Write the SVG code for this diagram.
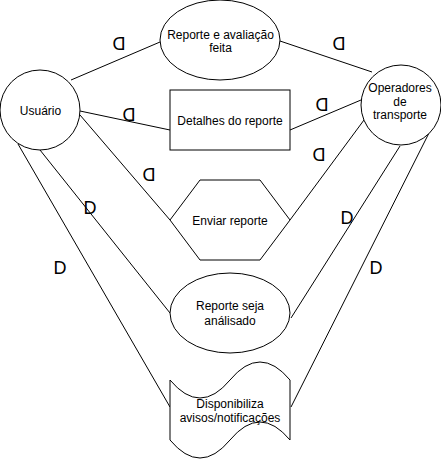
<svg xmlns="http://www.w3.org/2000/svg" width="441" height="461" viewBox="0 0 441 461">
<style>
.s{fill:#fff;stroke:#000;stroke-width:1}
.c line{stroke:#000;stroke-width:1}
.t{font-family:"Liberation Sans",Arial,sans-serif;font-size:12px;fill:#000;text-anchor:middle}
.d{font-family:"Liberation Sans",Arial,sans-serif;font-size:18px;fill:#000;text-anchor:middle}
</style>
<rect width="441" height="461" fill="#fff"/>
<g id="connectors" class="c">
<line x1="71" y1="80" x2="160" y2="42"/>
<line x1="280" y1="41" x2="372" y2="72"/>
<line x1="80" y1="111" x2="170" y2="130"/>
<line x1="290" y1="130" x2="361" y2="100"/>
<line x1="80" y1="115" x2="170" y2="220"/>
<line x1="364" y1="120" x2="290" y2="220"/>
<line x1="40" y1="150" x2="170" y2="313"/>
<line x1="18" y1="144" x2="170" y2="407"/>
<line x1="400" y1="146" x2="291" y2="318"/>
<line x1="429" y1="133" x2="291" y2="407"/>
</g>
<g id="labels">
<text class="d" transform="matrix(-1 0 0 1 238 0)" x="119" y="49.5">D</text>
<text class="d" transform="matrix(-1 0 0 1 678 0)" x="339" y="49.5">D</text>
<text class="d" transform="matrix(-1 0 0 1 258 0)" x="129" y="120.5">D</text>
<text class="d" transform="matrix(-1 0 0 1 644 0)" x="322" y="110.5">D</text>
<text class="d" transform="matrix(-1 0 0 1 638 0)" x="319" y="160.5">D</text>
<text class="d" transform="matrix(-1 0 0 1 298 0)" x="149" y="180.5">D</text>
<text class="d" x="90" y="213.5">D</text>
<text class="d" x="60" y="273.5">D</text>
<text class="d" x="347" y="223.5">D</text>
<text class="d" x="376" y="273.5">D</text>
</g>
<g id="usuario">
<circle class="s" cx="40" cy="110" r="40"/>
<text class="t" x="40.5" y="114.5">Usuário</text>
</g>
<g id="reporte-avaliacao">
<ellipse class="s" cx="220" cy="40" rx="60" ry="40"/>
<text class="t" x="220.5" y="38.5">Reporte e avaliação</text>
<text class="t" x="220.5" y="52">feita</text>
</g>
<g id="operadores">
<circle class="s" cx="401" cy="105" r="40"/>
<text class="t" x="400" y="92">Operadores</text>
<text class="t" x="400" y="105.5">de</text>
<text class="t" x="400" y="119">transporte</text>
</g>
<g id="detalhes">
<rect class="s" x="170" y="90" width="120" height="60"/>
<text class="t" x="230" y="124.5">Detalhes do reporte</text>
</g>
<g id="enviar">
<polygon class="s" points="170,220 200,180 260,180 290,220 260,260 200,260"/>
<text class="t" x="230" y="224.5">Enviar reporte</text>
</g>
<g id="reporte-analisado">
<ellipse class="s" cx="230" cy="313" rx="60" ry="40"/>
<text class="t" x="230" y="310">Reporte seja</text>
<text class="t" x="230" y="324.5">análisado</text>
</g>
<g id="disponibiliza">
<path class="s" d="M170 380 Q200 416 230 380 Q260 344 290 380 L290 440 Q260 404 230 440 Q200 476 170 440 Z"/>
<text class="t" x="230" y="408">Disponibiliza</text>
<text class="t" x="230" y="422">avisos/notificações</text>
</g>
</svg>
